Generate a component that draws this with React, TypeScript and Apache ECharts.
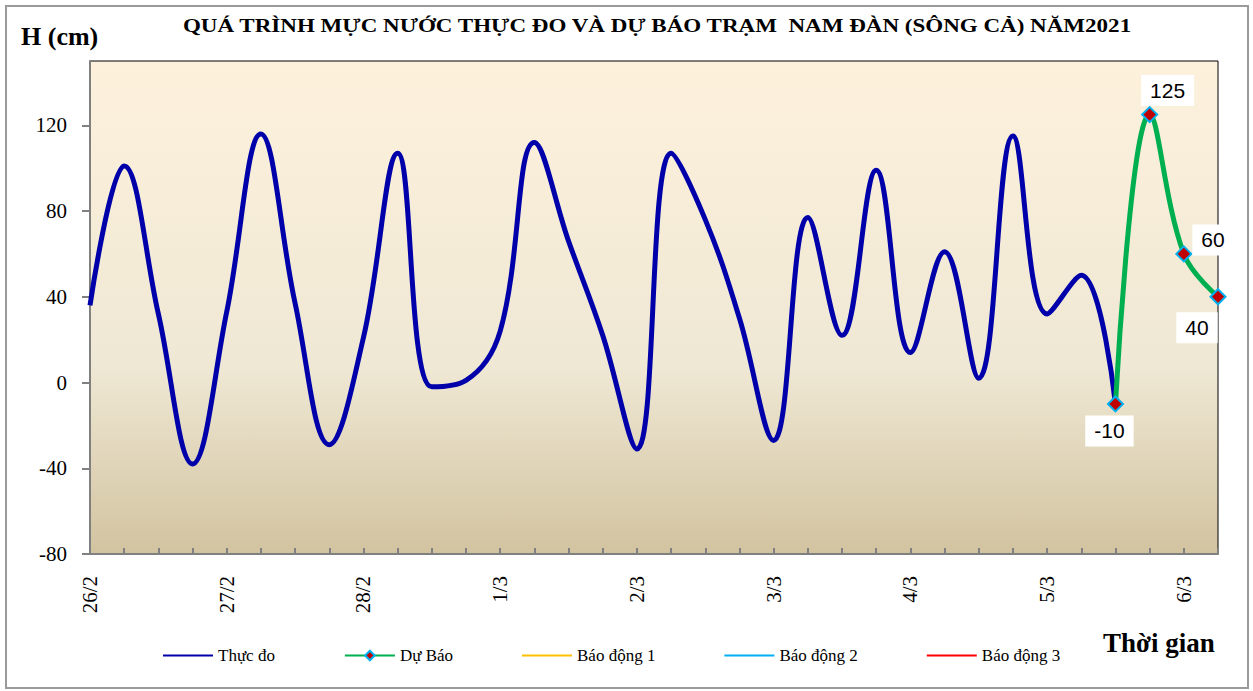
import React, { useEffect, useRef } from "react";
import * as echarts from "echarts";

const days = ["26/2", "27/2", "28/2", "1/3", "2/3", "3/3", "4/3", "5/3", "6/3"];
const hours = ["00h", "06h", "12h", "18h"];
const pointCount = 34;
const categories: string[] = days.flatMap((d) => hours.map((h) => `${d} ${h}`)).slice(0, pointCount);

const measured = [36, 101, 32, -38, 33, 116, 37, -29, 21, 107, -2, 1, 24, 112, 66, 22, -31, 107, 76, 30, -27, 77, 22, 99, 14, 61, 2, 115, 32, 50, -10];
const forecastStart = 30;
const forecast = [-10, 125, 60, 40];

const yTicks = [-80, -40, 0, 40, 80, 120];
const yMin = -80;
const yMax = 150;

const legendNames = ["Thực đo", "Dự Báo", "Báo động 1", "Báo động 2", "Báo động 3"];

const SERIF = "'Liberation Serif', 'Times New Roman', serif";
const SANS = "'Liberation Sans', Arial, sans-serif";
const LINE_ICON = "path://M0,0L50,0L50,2L0,2Z";

const labelPlacement: any[] = [
  { position: "bottom", distance: 3, offset: [-6, 0] },
  { position: "top", distance: 0, offset: [18, 0] },
  { position: "right", distance: 0, offset: [0, -14] },
  { position: "bottom", distance: 5, offset: [-21, 2] },
];

export default function App() {
  const ref = useRef<HTMLDivElement>(null);
  useEffect(() => {
    if (!ref.current) return;
    const chart = echarts.init(ref.current, null, { renderer: "svg" });
    const forecastData: any[] = categories.map(() => "-");
    forecast.forEach((v, i) => {
      forecastData[forecastStart + i] = {
        value: v,
        label: { show: true, ...labelPlacement[i] },
      };
    });
    chart.setOption({
      animation: false,
      backgroundColor: "#ffffff",
      grid: {
        left: 90,
        top: 61,
        right: 35,
        bottom: 137,
        show: true,
        borderColor: "#000000",
        borderWidth: 1,
        backgroundColor: {
          type: "linear",
          x: 0,
          y: 0,
          x2: 0,
          y2: 1,
          colorStops: [
            { offset: 0, color: "#FDF1DC" },
            { offset: 0.62, color: "#EFE8D4" },
            { offset: 1, color: "#D2C3A0" },
          ],
        },
      },
      legend: {
        data: legendNames.map((n) => (n === "Dự Báo" ? { name: n } : { name: n, icon: LINE_ICON })),
        left: 158,
        top: 642,
        itemWidth: 50,
        itemHeight: 12,
        itemGap: 69,
        lineStyle: { width: 2 },
        textStyle: { fontFamily: SERIF, fontSize: 17, color: "#000" },
      },
      xAxis: {
        type: "category",
        data: categories,
        boundaryGap: false,
        axisLine: { onZero: false, lineStyle: { color: "#808080", width: 2 } },
        axisTick: { inside: true, length: 6, interval: 0, lineStyle: { color: "#808080", width: 2 } },
        axisLabel: {
          interval: 3,
          rotate: 90,
          margin: 22,
          fontFamily: SERIF,
          fontSize: 21,
          color: "#000",
          formatter: (v: string) => v.split(" ")[0],
        },
        splitLine: { show: false },
      },
      yAxis: {
        type: "value",
        min: yMin,
        max: yMax,
        interval: 40,
        axisLine: { show: true, lineStyle: { color: "#808080", width: 2 } },
        axisTick: { show: true, length: 8, customValues: yTicks, lineStyle: { color: "#808080", width: 2 } },
        axisLabel: {
          customValues: yTicks,
          margin: 23,
          fontFamily: SERIF,
          fontSize: 21,
          color: "#000",
        },
        splitLine: { show: false },
      },
      series: [
        {
          name: "Thực đo",
          type: "line",
          data: measured,
          smooth: 0.4,
          symbol: "none",
          color: "#0000AA",
          lineStyle: { color: "#0000AA", width: 5 },
          z: 2,
        },
        {
          name: "Dự Báo",
          type: "line",
          data: forecastData,
          smooth: 0.4,
          symbol: "diamond",
          symbolSize: 15,
          color: "#00B050",
          lineStyle: { color: "#00B050", width: 5 },
          itemStyle: { color: "#C00000", borderColor: "#00B0F0", borderWidth: 2 },
          label: {
            show: true,
            color: "#000",
            fontFamily: SANS,
            fontSize: 21,
            backgroundColor: "#ffffff",
            padding: [5, 9],
          },
          z: 3,
        },
        { name: "Báo động 1", type: "line", data: [], symbol: "none", color: "#FFC000", lineStyle: { color: "#FFC000" } },
        { name: "Báo động 2", type: "line", data: [], symbol: "none", color: "#00B0F0", lineStyle: { color: "#00B0F0" } },
        { name: "Báo động 3", type: "line", data: [], symbol: "none", color: "#FF0000", lineStyle: { color: "#FF0000" } },
      ],
      graphic: [
        {
          type: "rect",
          shape: { x: 6, y: 6, width: 1242, height: 682 },
          style: { fill: "none", stroke: "#9a9a9a", lineWidth: 2 },
          silent: true,
        },
        {
          type: "text",
          x: 657,
          y: 17,
          scaleX: 1.28,
          style: {
            text: "QUÁ TRÌNH MỰC NƯỚC THỰC ĐO VÀ DỰ BÁO TRẠM  NAM ĐÀN (SÔNG CẢ) NĂM2021",
            font: `bold 18px ${SERIF}`,
            fill: "#000",
            textAlign: "center",
            textVerticalAlign: "top",
          },
        },
        {
          type: "text",
          x: 21,
          y: 23,
          style: {
            text: "H (cm)",
            font: `bold 26px ${SERIF}`,
            fill: "#000",
            textVerticalAlign: "top",
          },
        },
        {
          type: "text",
          x: 1103,
          y: 629,
          style: {
            text: "Thời gian",
            font: `bold 27px ${SERIF}`,
            fill: "#000",
            textVerticalAlign: "top",
          },
        },
      ],
    });
    return () => chart.dispose();
  }, []);
  return (
    <div style={{ position: "absolute", left: 0, top: 0, width: 1253, height: 691 }}>
      <div ref={ref} style={{ width: 1253, height: 691 }} />
    </div>
  );
}
